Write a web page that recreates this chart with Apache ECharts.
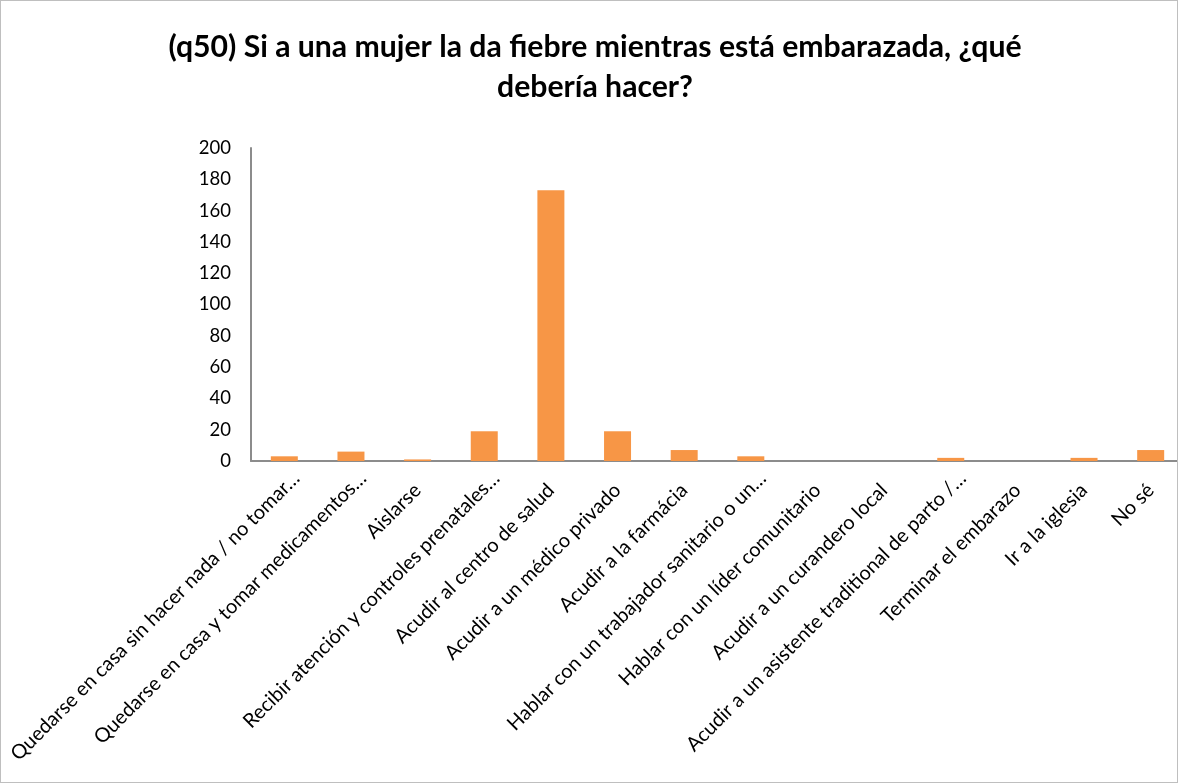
<!DOCTYPE html>
<html>
<head>
<meta charset="utf-8">
<script src="https://cdn.jsdelivr.net/npm/echarts@6/dist/echarts.min.js"></script>
<style>
  html, body { margin: 0; padding: 0; background: #fff; }
  #chart { width: 1178px; height: 783px; box-sizing: border-box; border: 1px solid #bfbfbf; }
</style>
</head>
<body>
<div id="chart"></div>
<script>
const title = "(q50) Si a una mujer la da fiebre mientras está embarazada, ¿qué\ndebería hacer?";

const categories = [
    "Quedarse en casa sin hacer nada / no tomar…",
    "Quedarse en casa y tomar medicamentos…",
    "Aislarse",
    "Recibir atención y controles prenatales…",
    "Acudir al centro de salud",
    "Acudir a un médico privado",
    "Acudir a la farmácia",
    "Hablar con un trabajador sanitario o un…",
    "Hablar con un líder comunitario",
    "Acudir a un curandero local",
    "Acudir a un asistente traditional de parto /…",
    "Terminar el embarazo",
    "Ir a la iglesia",
    "No sé"
];

const counts = [3, 6, 1, 19, 173, 19, 7, 3, 0, 0, 2, 0, 2, 7];

const y_ticks = { min: 0, max: 200, interval: 20 };

document.addEventListener("DOMContentLoaded", function () {
    const el = document.getElementById("chart");
    const chart = echarts.init(el, null, { renderer: "canvas" });
    const font = "Lato, 'Open Sans', sans-serif";
    const label_font = { fontSize: 20, fontFamily: font, color: "#000" };

    let option = {
        animation: false,
        textStyle: { fontFamily: font },
        title: {
            text: title,
            left: 589,
            textAlign: "center",
            top: 21,
            textStyle: {
                fontFamily: font,
                fontSize: 30.2,
                fontWeight: "bold",
                color: "#000",
                lineHeight: 40,
            },
        },
        grid: {
            left: 250,
            right: -7,
            top: 147,
            bottom: 321,
            containLabel: false,
            outerBoundsMode: "none",
        },
        xAxis: {
            type: "category",
            data: categories,
            axisLine: { show: true, lineStyle: { color: "#8c8c8c", width: 2 } },
            axisTick: { show: false },
            axisLabel: {
                rotate: 45,
                interval: 0,
                margin: 26,
                ...label_font,
                // excel puts the cut-off labels a bit further along
                formatter: function (v) {
                    return v.endsWith("…") ? "{cut|" + v + "}" : v;
                },
                rich: {
                    cut: { ...label_font, padding: [0, -17, 0, 0] },
                },
            },
        },
        yAxis: {
            type: "value",
            min: y_ticks.min,
            max: y_ticks.max,
            interval: y_ticks.interval,
            axisLine: { show: true, lineStyle: { color: "#8c8c8c", width: 2 } },
            axisTick: { show: false },
            splitLine: { show: false },
            axisLabel: {
                fontSize: 18.5,
                color: "#000",
                margin: 20,
                fontFamily: font,
            },
        },
        series: [
            {
                type: "bar",
                data: counts,
                barWidth: 27,
                itemStyle: { color: "#f79646" },
            },
        ],
    };
    chart.setOption(option);
});
</script>
</body>
</html>
